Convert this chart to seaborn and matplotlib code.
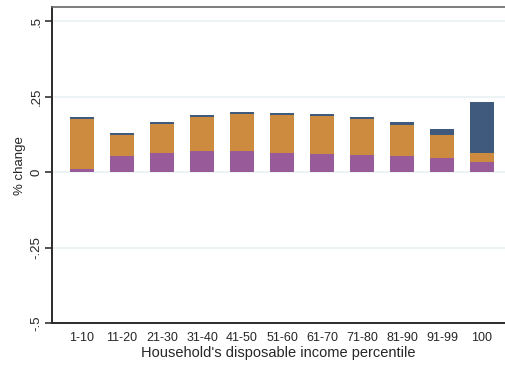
import matplotlib
matplotlib.use("Agg")
import matplotlib.pyplot as plt
import seaborn as sns
import numpy as np
import pandas as pd

# Income groups and decomposition of the change (stacked components)
categories = ["1-10", "11-20", "21-30", "31-40", "41-50", "51-60",
              "61-70", "71-80", "81-90", "91-99", "100"]
comp_bottom = [0.010, 0.054, 0.064, 0.0705, 0.0695, 0.064, 0.0606, 0.057, 0.054, 0.047, 0.034]
comp_middle = [0.166, 0.069, 0.097, 0.1135, 0.1235, 0.127, 0.1264, 0.119, 0.103, 0.076, 0.030]
comp_top = [0.007, 0.008, 0.006, 0.007, 0.006, 0.005, 0.006, 0.007, 0.008, 0.021, 0.169]

y_ticks = [-0.5, -0.25, 0, 0.25, 0.5]
y_ticklabels = ["-.5", "-.25", "0", ".25", ".5"]

col_bottom = "#985a98"
col_middle = "#cd8b40"
col_top = "#3f5a7c"

sns.set_theme(style="white")
plt.rcParams["font.family"] = ["Liberation Sans", "DejaVu Sans"]

df = pd.DataFrame({"group": categories,
                   "bottom": comp_bottom,
                   "middle": comp_middle,
                   "top": comp_top})
df["cum_bottom"] = df["bottom"]
df["cum_middle"] = df["bottom"] + df["middle"]
df["cum_top"] = df["cum_middle"] + df["top"]

fig = plt.figure(figsize=(5.05, 3.65), dpi=100)
ax = fig.add_axes([0.103, 0.1142, 0.897, 0.8658])

# horizontal grid
for t in y_ticks:
    ax.axhline(t, color="#eaf2f3", lw=1.3, zorder=0)

# stacked bars drawn as overlapping cumulative totals
for col, c in [("cum_top", col_top), ("cum_middle", col_middle), ("cum_bottom", col_bottom)]:
    sns.barplot(data=df, x="group", y=col, color=c, width=0.6, saturation=1,
                order=categories, ax=ax, zorder=2, linewidth=0)

ax.set_xlim(-0.75, 10.575)
ax.set_ylim(-0.5, 0.546)
ax.set_yticks(y_ticks)
ax.set_yticklabels(y_ticklabels, rotation=90, va="center", fontsize=9.5)
ax.tick_params(axis="y", which="major", length=5, width=1.2, color="#333333",
               pad=2, left=True, direction="out")
ax.tick_params(axis="x", length=0, pad=6, labelsize=9)
ax.set_ylabel("% change", fontsize=9.5, labelpad=3)
ax.set_xlabel("Household's disposable income percentile", fontsize=10.5, labelpad=2)

for s in ["left", "bottom"]:
    ax.spines[s].set_color("#2b2b2b")
    ax.spines[s].set_linewidth(1.4)
ax.spines["top"].set_color("#666666")
ax.spines["top"].set_linewidth(1.2)
ax.spines["right"].set_visible(False)

fig.savefig("out.png", dpi=100)
